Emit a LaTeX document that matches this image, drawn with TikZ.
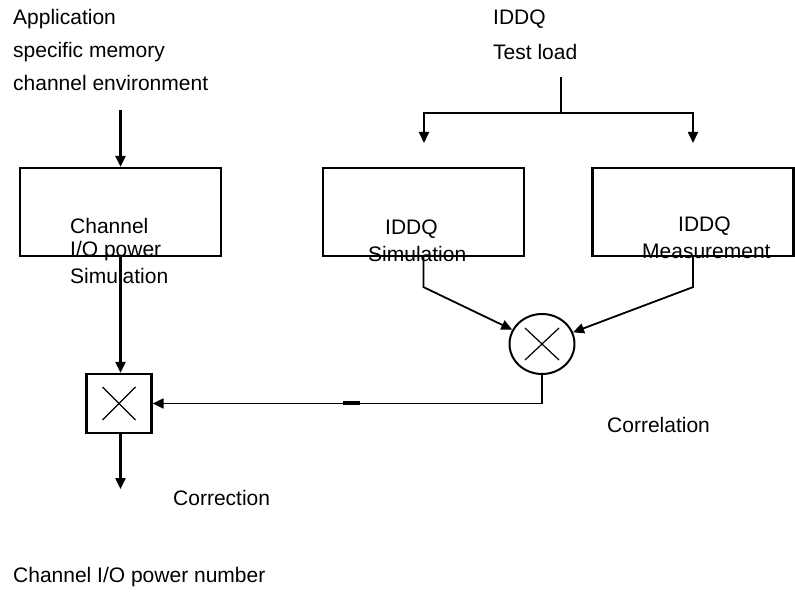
\documentclass[tikz,border=0pt]{standalone}
\usepackage{fontspec}
\setmainfont{Liberation Sans}
\usetikzlibrary{arrows.meta,shapes.geometric}
\begin{document}
\begin{tikzpicture}[x=1pt,y=-1pt,
  txt/.style={anchor=west,inner sep=0pt,font=\fontsize{21}{25}\selectfont},
  blk/.style={draw,line width=2.2pt,minimum width=201pt,minimum height=88pt,inner sep=0pt},
  ln/.style={line width=2.2pt},
  arr/.style={line width=2.4pt,-{Triangle[width=10pt,length=11pt]}},
  darr/.style={line width=1.8pt,-{Triangle[width=10pt,length=11pt]}}]
\useasboundingbox (0,0) rectangle (795,601);
% texts
\node[txt] (app1) at (13,19) {Application};
\node[txt] (app2) at (13,52) {specific memory};
\node[txt] (app3) at (13,83) {channel environment};
\node[txt] (tl1) at (493,19) {IDDQ};
\node[txt] (tl2) at (493,52) {Test load};
% boxes
\node[blk] (lbox) at (120.5,212) {};
\node[blk] (sbox) at (423.5,212) {};
\node[blk] (mbox) at (693,212) {};
\node[txt] (lt1) at (70,226) {Channel};
\node[txt] (lt2) at (70,251) {I/O power};
\node[txt] (lt3) at (70,276) {Simulation};
\node[txt] (st1) at (385,229) {IDDQ};
\node[txt] (st2) at (368,254) {Simulation};
\node[txt] (mt1) at (678,226) {IDDQ};
\node[txt] (mt2) at (642,251) {Measurement};
% mixers
\node[draw,ellipse,line width=2pt,minimum width=65pt,minimum height=60pt,inner sep=0pt] (mix) at (542,344) {};
\draw[line width=1.2pt] (mix.center) ++(-17,-16) -- ++(34,32);
\draw[line width=1.2pt] (mix.center) ++(17,-16) -- ++(-34,32);
\node[draw,line width=2.2pt,minimum width=65pt,minimum height=59pt,inner sep=0pt] (mixsq) at (119,403.5) {};
\draw[line width=1.2pt] (mixsq.center) ++(-16.5,-16.5) -- ++(33,33);
\draw[line width=1.2pt] (mixsq.center) ++(16.5,-16.5) -- ++(-33,33);
% labels
\node[txt] (corr) at (607,425) {Correlation};
\node[txt] (corn) at (173,498) {Correction};
\node[txt] (num) at (13,577) {Channel I/O power number};
% connectors
\coordinate (a0) at (120.5,110);
\draw[arr] (a0) -- (lbox.north);
\draw[arr] (lbox.south) -- (mixsq.north -| lbox.south);
\coordinate (out) at (120.5,489);
\draw[arr] (mixsq.south -| out) -- (out);
\coordinate (t0) at (561,77);
\coordinate (t1) at (561,113);
\coordinate (tl) at (424,143);
\coordinate (tr) at (693,143);
\draw[ln] (t0) -- (t1);
\draw[darr] (t1) -| (tl);
\draw[darr] (t1) -| (tr);
\draw[darr] (sbox.south) -- ++(0,30) -- (mix);
\draw[darr] (mbox.south) -- ++(0,30) -- (mix);
\draw[darr] (mix.south) |- (mixsq.east);
\coordinate (g0) at (343,403);
\coordinate (g1) at (360,403);
\draw[line width=3.2pt] (g0) -- (g1);
\end{tikzpicture}
\end{document}
